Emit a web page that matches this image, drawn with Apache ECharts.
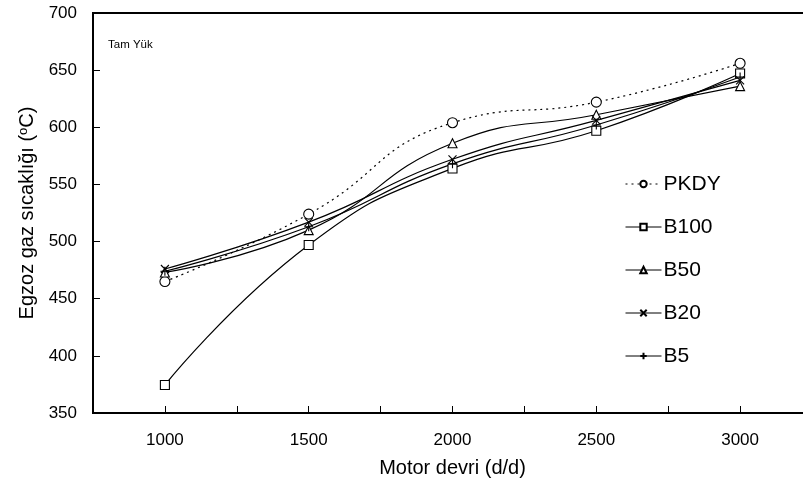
<!DOCTYPE html>
<html><head><meta charset="utf-8">
<script src="https://cdn.jsdelivr.net/npm/echarts@6/dist/echarts.min.js"></script>
<style>html,body{margin:0;padding:0;background:#fff}#c{width:803px;height:490px}</style>
</head><body><div id="c"></div>
<script>
const rpm = [1000, 1500, 2000, 2500, 3000];
const PKDY = [465, 524, 604, 622, 656];
const B100 = [374.5, 497, 564, 597, 647];
const B50 = [473, 510, 586, 611, 636];
const B20 = [476, 517, 572, 606, 641];
const B5 = [474, 513, 568, 602, 644];
const xTicks = [1000, 1500, 2000, 2500, 3000];
const yTicks = [350, 400, 450, 500, 550, 600, 650, 700];

const FONT = '"Liberation Sans", Arial, sans-serif';
const pair = arr => rpm.map((x, i) => [x, arr[i]]);
const crossPath = 'path://M0,0L10,10M10,0L0,10';
const plusPath = 'path://M5,0L5,10M0,5L10,5';

function mk(name, data, symbol, size, dash) {
  return {
    name, type: 'line', data: pair(data), smooth: 0.5,
    symbol, symbolSize: size, showSymbol: true,
    lineStyle: { color: '#000', width: 1.2, type: dash || 'solid' },
    itemStyle: { color: '#fff', borderColor: '#000', borderWidth: 1.1 },
    emphasis: { disabled: true }
  };
}

const chart = echarts.init(document.getElementById('c'), null, { renderer: 'canvas' });
chart.setOption({
  animation: false,
  backgroundColor: '#fff',
  textStyle: { fontFamily: FONT },
  grid: { left: 93, top: 13, width: 719, height: 400, show: true, borderColor: '#000', borderWidth: 2, backgroundColor: 'transparent', outerBoundsMode: 'none', containLabel: false },
  xAxis: {
    type: 'value', min: 750, max: 3250, interval: 250,
    name: 'Motor devri (d/d)', nameLocation: 'middle', nameGap: 45,
    nameTextStyle: { fontSize: 20, color: '#000', fontFamily: FONT },
    axisLine: { lineStyle: { color: '#000', width: 2 } },
    axisTick: { inside: true, length: 7, lineStyle: { color: '#000', width: 1 } },
    axisLabel: { fontSize: 17, color: '#000', margin: 19, fontFamily: FONT,
      formatter: v => xTicks.includes(v) ? String(v) : '' },
    splitLine: { show: false }
  },
  yAxis: {
    type: 'value', min: yTicks[0], max: yTicks[yTicks.length - 1], interval: 50,
    name: '{a|Egzoz gaz sıcaklığı (}{s|o}{a|C)}', nameLocation: 'middle', nameGap: 50,
    nameTextStyle: { fontSize: 20, color: '#000', fontFamily: FONT,
      rich: { a: { fontSize: 20, color: '#000', fontFamily: FONT }, s: { fontSize: 13, color: '#000', fontFamily: FONT, verticalAlign: 'top', padding: [0, 0, 8, 0] } } },
    axisLine: { show: true, lineStyle: { color: '#000', width: 2 } },
    axisTick: { show: true, inside: true, length: 7, lineStyle: { color: '#000', width: 1 } },
    axisLabel: { fontSize: 17, color: '#000', margin: 16, fontFamily: FONT },
    splitLine: { show: false }
  },
  legend: {
    orient: 'vertical', left: 620, top: 168,
    itemWidth: 36, itemHeight: 8, itemGap: 21,
    lineStyle: { width: 1 },
    textStyle: { fontSize: 21, color: '#000', fontFamily: FONT, lineHeight: 22, padding: [0, 0, 0, -3] },
    data: ['PKDY', 'B100', 'B50', 'B20', 'B5']
  },
  graphic: [{ type: 'text', left: 108, top: 39, style: { text: 'Tam Yük', fontSize: 11.5, fill: '#000', fontFamily: FONT } }],
  series: [
    mk('PKDY', PKDY, 'circle', 10, [2, 4]),
    mk('B100', B100, 'rect', 9),
    mk('B50', B50, 'triangle', 9),
    mk('B20', B20, crossPath, 8),
    mk('B5', B5, plusPath, 9)
  ]
});
</script></body></html>
